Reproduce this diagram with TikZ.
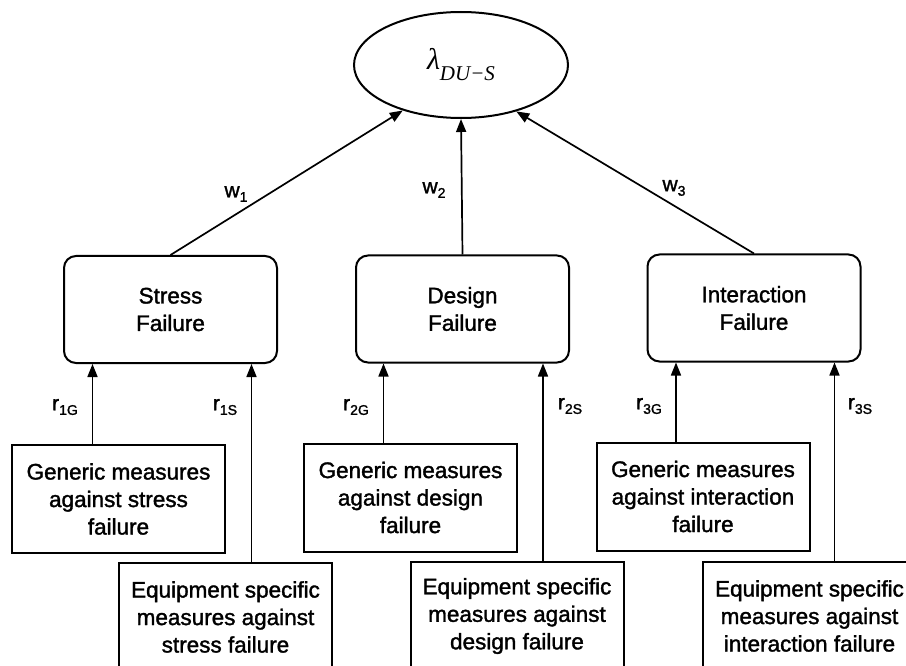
\documentclass[tikz,border=0pt]{standalone}
\usepackage{fontspec}
\setmainfont{Liberation Sans}[FakeBold=1.5]
\newfontfamily\serifitalic{Liberation Serif Italic}
\usetikzlibrary{arrows.meta,shapes.geometric}
% lowered index for the weight and reduction labels
\newcommand\lowidx[1]{\raisebox{-4.5pt}{\fontsize{14}{14}\selectfont #1}}
\begin{document}
\begin{tikzpicture}[x=1pt,y=-1pt,
  every node/.style={font=\fontsize{22.5}{27.5}\selectfont},
  failbox/.style={draw, line width=2pt, rounded corners=12pt,
    minimum width=213pt, minimum height=107pt, align=center, inner sep=0pt},
  measbox/.style={draw, line width=2pt,
    minimum width=213pt, minimum height=108pt, align=center, inner sep=0pt},
  link/.style={line width=1.7pt, -{Triangle[length=13pt,width=10pt]}},
  wlabel/.style={font=\fontsize{21}{21}\selectfont, inner sep=0pt},
]
\useasboundingbox (0,0) rectangle (906,666);
\clip (0,0) rectangle (906,666);

% top event
\node[draw, ellipse, line width=2pt, minimum width=214pt, minimum height=106pt,
      inner sep=0pt] (lam) at (461,65)
  {\serifitalic\fontsize{30}{30}\selectfont λ\raisebox{-11pt}{\fontsize{21}{21}\selectfont DU−S}};

% failure categories
\node[failbox] (ss) at (170.5,309.5) {Stress\\Failure};
\node[failbox] (sd) at (462.5,309)   {Design\\Failure};
\node[failbox] (si) at (754,308)     {Interaction\\Failure};

% generic measures
\node[measbox] (gs) at (118.5,499) {Generic measures\\against stress\\failure};
\node[measbox] (gd) at (410.5,497.5) {Generic measures\\against design\\failure};
\node[measbox] (gi) at (703,496.5) {Generic measures\\against interaction\\failure};

% equipment specific measures
\node[measbox] (es) at (225.5,617) {Equipment specific\\measures against\\stress failure};
\node[measbox] (ed) at (517,616)   {Equipment specific\\measures against\\design failure};
\node[measbox] (ei) at (809.5,616) {Equipment specific\\measures against\\interaction failure};

% weights
\draw[link] (ss.north) -- (lam.218);
\draw[link] (sd.north) -- (lam.south);
\draw[link] (si.north) -- (lam.320);
\node[wlabel] (w1) at (236,194) {w\lowidx{1}};
\node[wlabel] (w2) at (434,190) {w\lowidx{2}};
\node[wlabel] (w3) at (674,188) {w\lowidx{3}};

% reduction factors
\draw[link] ([xshift=-26pt]gs.north) -- ([xshift=-26pt]gs.north |- ss.south);
\draw[link] ([xshift=26pt]es.north)  -- ([xshift=26pt]es.north |- ss.south);
\draw[link] ([xshift=-27pt]gd.north) -- ([xshift=-27pt]gd.north |- sd.south);
\draw[link] ([xshift=26pt]ed.north)  -- ([xshift=26pt]ed.north |- sd.south);
\draw[link] ([xshift=-27pt]gi.north) -- ([xshift=-27pt]gi.north |- si.south);
\draw[link] ([xshift=25pt]ei.north)  -- ([xshift=25pt]ei.north |- si.south);
\node[wlabel] (r1g) at (65,407)  {r\lowidx{1G}};
\node[wlabel] (r1s) at (225,407) {r\lowidx{1S}};
\node[wlabel] (r2g) at (356,407) {r\lowidx{2G}};
\node[wlabel] (r2s) at (570,406) {r\lowidx{2S}};
\node[wlabel] (r3g) at (649,406) {r\lowidx{3G}};
\node[wlabel] (r3s) at (860,406) {r\lowidx{3S}};
\end{tikzpicture}
\end{document}
